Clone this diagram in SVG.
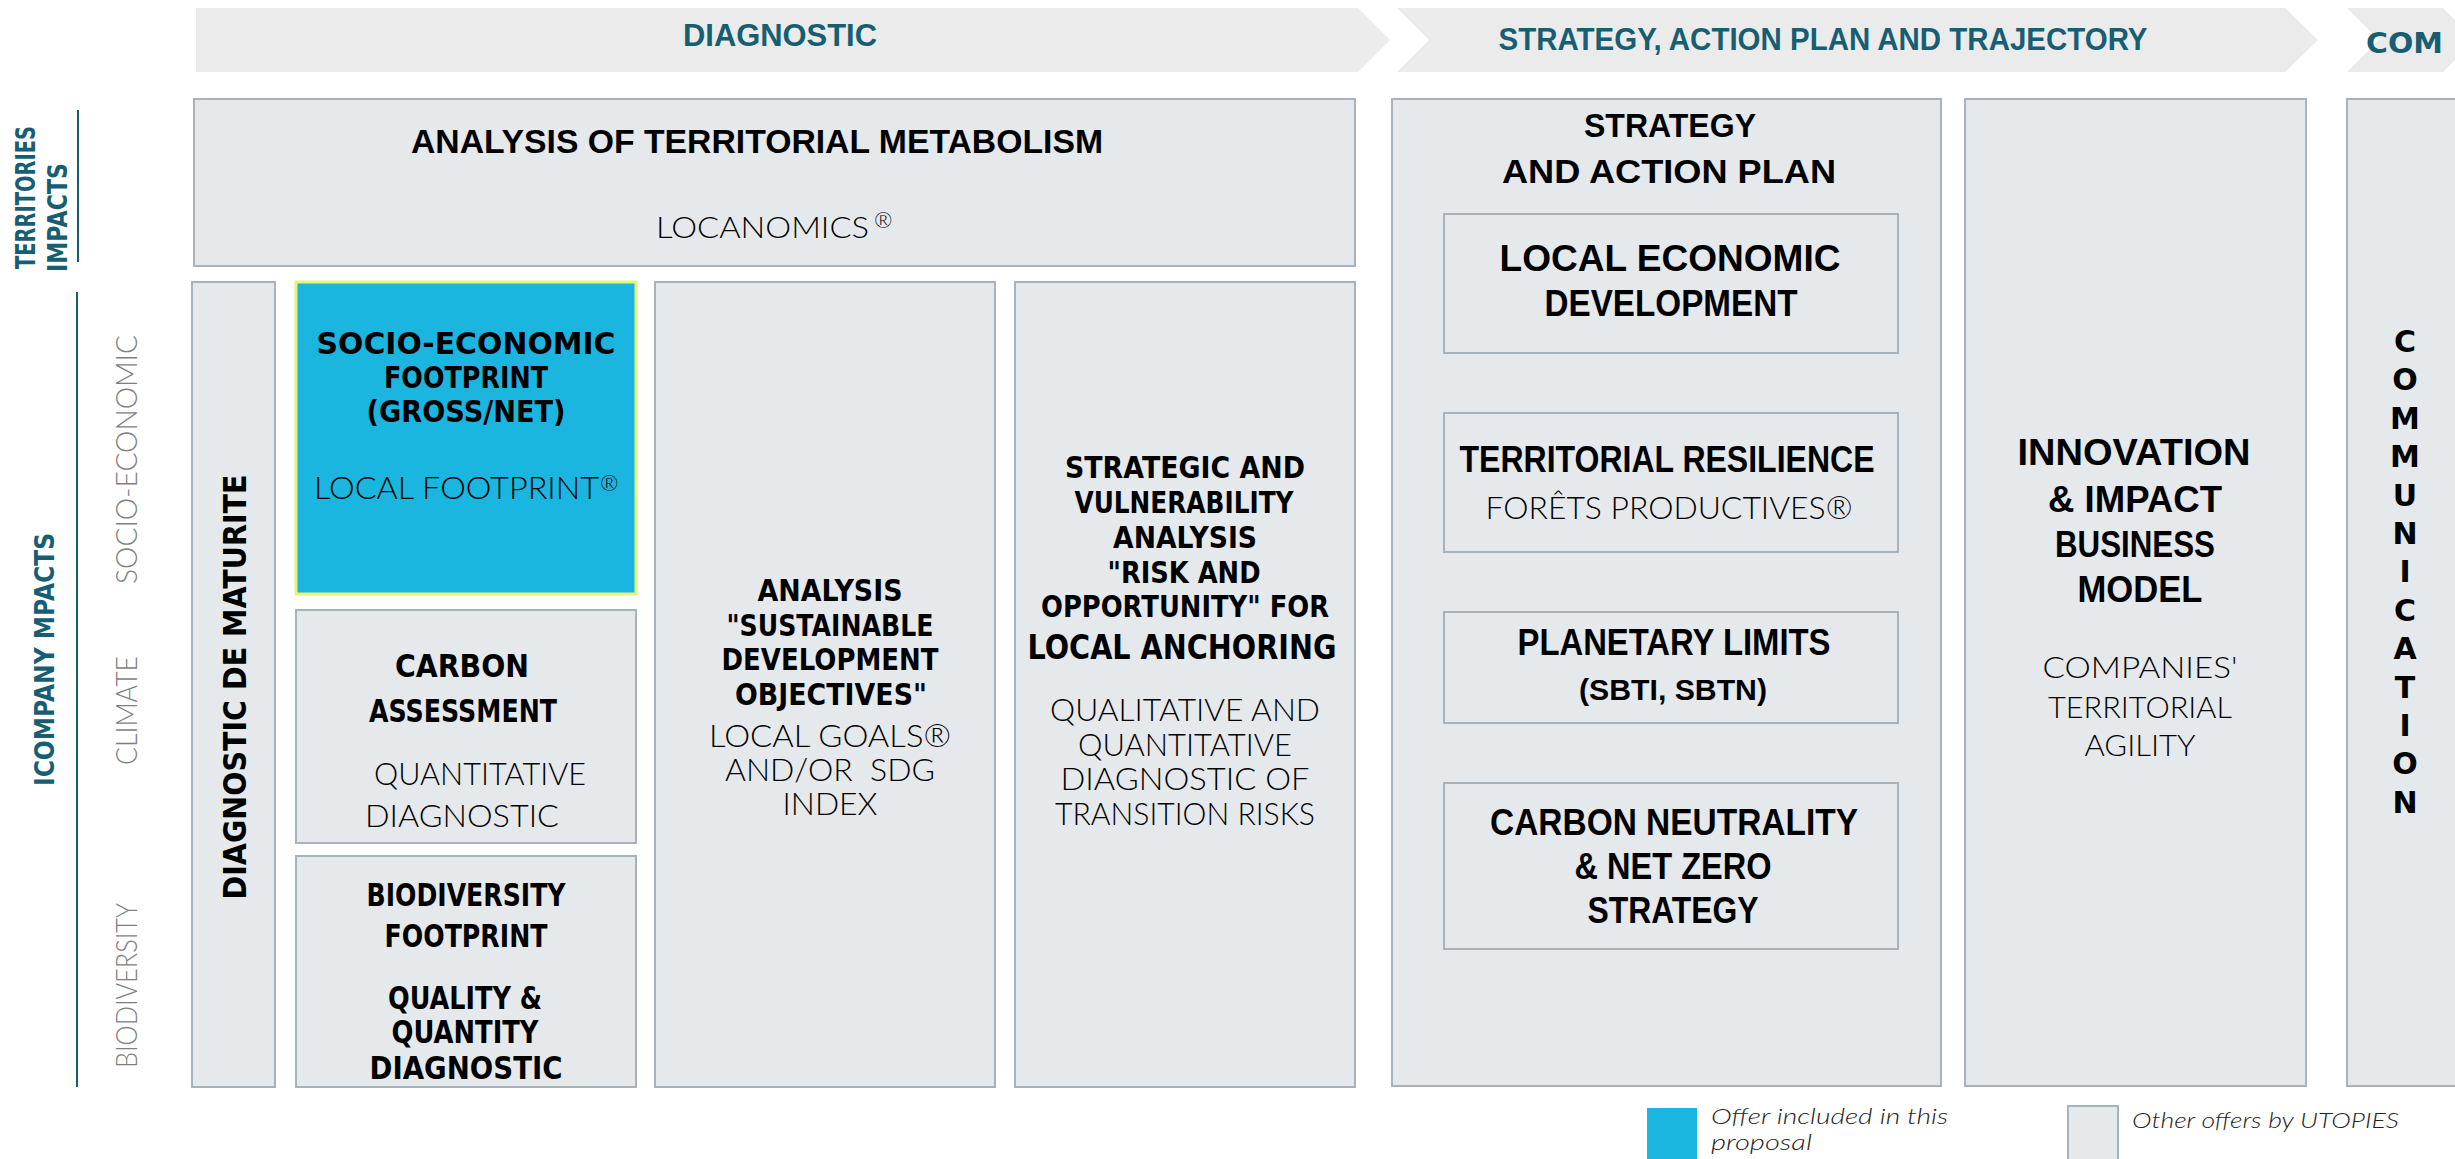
<svg xmlns="http://www.w3.org/2000/svg" width="2455" height="1159" viewBox="0 0 2455 1159">
  <style>
    .phase { fill: #EBEBEB; }
    .box { fill: #E6E9EC; stroke: #A7B3BC; stroke-width: 2; }
    .offer { fill: #1BB6E0; stroke: #E4F57A; stroke-width: 3; }
    .cb { font-family: "Liberation Sans", Arial, sans-serif; font-weight: bold; fill: #000; }
    .cl { font-family: "Lato", "Open Sans", sans-serif; font-weight: 300; fill: #000; }
    .gb { font-family: "DejaVu Sans", "Noto Sans", sans-serif; font-weight: bold; fill: #000; }
    .gl { font-family: "Lato", "Open Sans", sans-serif; font-weight: 300; fill: #000; }
    .teal { fill: #175E73; }
    .grey { fill: #7F7F7F; }
    .mid { text-anchor: middle; }
    .axis { stroke: #175E73; stroke-width: 2; fill: none; }
    .legend { font-family: "Lato", "Open Sans", sans-serif; font-weight: 300; font-style: italic; fill: #222; font-size: 22px; }
  </style>

  <!-- Phase banners -->
  <g id="phase-diagnostic">
    <polygon class="phase" points="196,8 1358,8 1390,40 1358,72 196,72"/>
    <text class="cb teal mid" x="780" y="46" font-size="32" textLength="194" lengthAdjust="spacingAndGlyphs">DIAGNOSTIC</text>
  </g>
  <g id="phase-strategy">
    <polygon class="phase" points="1397,8 2285,8 2318,40 2285,72 1397,72 1429,40"/>
    <text class="cb teal mid" x="1823" y="50" font-size="32" textLength="649" lengthAdjust="spacingAndGlyphs">STRATEGY, ACTION PLAN AND TRAJECTORY</text>
  </g>
  <g id="phase-com">
    <polygon class="phase" points="2347,8 2443,8 2475,40 2443,72 2347,72 2379,40"/>
    <text class="gb teal" x="2366" y="53" font-size="29" textLength="77" lengthAdjust="spacingAndGlyphs">COM</text>
  </g>

  <!-- Side axis labels -->
  <g id="axis-territories">
    <text class="gb teal" font-size="26" transform="translate(35,269) rotate(-90)" textLength="143" lengthAdjust="spacingAndGlyphs">TERRITORIES</text>
    <text class="gb teal" font-size="26" transform="translate(67,272) rotate(-90)" textLength="109" lengthAdjust="spacingAndGlyphs">IMPACTS</text>
    <line class="axis" x1="78" y1="110" x2="78" y2="262"/>
  </g>
  <g id="axis-company">
    <text class="gb teal" font-size="27" transform="translate(54,786) rotate(-90)" textLength="253" lengthAdjust="spacingAndGlyphs">ICOMPANY MPACTS</text>
    <line class="axis" x1="77" y1="292" x2="77" y2="1087"/>
    <text class="gl grey" font-size="30" transform="translate(137,584) rotate(-90)" textLength="249" lengthAdjust="spacingAndGlyphs">SOCIO-ECONOMIC</text>
    <text class="gl grey" font-size="30" transform="translate(137,765) rotate(-90)" textLength="109" lengthAdjust="spacingAndGlyphs">CLIMATE</text>
    <text class="gl grey" font-size="30" transform="translate(137,1068) rotate(-90)" textLength="165" lengthAdjust="spacingAndGlyphs">BIODIVERSITY</text>
  </g>

  <!-- Territorial metabolism -->
  <g id="node-metabolism">
    <rect class="box" x="194" y="99" width="1161" height="167"/>
    <text class="cb mid" x="757" y="153" font-size="34" textLength="692" lengthAdjust="spacingAndGlyphs">ANALYSIS OF TERRITORIAL METABOLISM</text>
    <text class="cl" x="656" y="238" font-size="30" textLength="213" lengthAdjust="spacingAndGlyphs">LOCANOMICS</text>
    <text class="cl" x="874" y="228" font-size="22">®</text>
  </g>

  <!-- Maturity diagnostic -->
  <g id="node-maturity">
    <rect class="box" x="192" y="282" width="83" height="805"/>
    <text class="gb mid" font-size="32" transform="translate(246,687) rotate(-90)" textLength="425" lengthAdjust="spacingAndGlyphs">DIAGNOSTIC DE MATURITE</text>
  </g>

  <!-- Socio-economic footprint (included offer) -->
  <g id="node-socio-economic">
    <rect class="offer" x="296" y="282" width="340" height="312"/>
    <text class="gb mid" x="466" y="354" font-size="31" textLength="299" lengthAdjust="spacingAndGlyphs">SOCIO-ECONOMIC</text>
    <text class="gb mid" x="466" y="388" font-size="31" textLength="164" lengthAdjust="spacingAndGlyphs">FOOTPRINT</text>
    <text class="gb mid" x="466" y="422" font-size="31" textLength="199" lengthAdjust="spacingAndGlyphs">(GROSS/NET)</text>
    <text class="gl" x="314" y="499" font-size="31" textLength="285" lengthAdjust="spacingAndGlyphs">LOCAL FOOTPRINT</text>
    <text class="gl" x="600" y="491" font-size="22">®</text>
  </g>

  <!-- Carbon assessment -->
  <g id="node-carbon">
    <rect class="box" x="296" y="610" width="340" height="233"/>
    <text class="gb mid" x="462" y="677" font-size="32" textLength="134" lengthAdjust="spacingAndGlyphs">CARBON</text>
    <text class="gb mid" x="463" y="722" font-size="32" textLength="188" lengthAdjust="spacingAndGlyphs">ASSESSMENT</text>
    <text class="gl mid" x="480" y="785" font-size="31" textLength="212" lengthAdjust="spacingAndGlyphs">QUANTITATIVE</text>
    <text class="gl mid" x="462" y="827" font-size="31" textLength="194" lengthAdjust="spacingAndGlyphs">DIAGNOSTIC</text>
  </g>

  <!-- Biodiversity footprint -->
  <g id="node-biodiversity">
    <rect class="box" x="296" y="856" width="340" height="231"/>
    <text class="gb mid" x="466" y="906" font-size="32" textLength="199" lengthAdjust="spacingAndGlyphs">BIODIVERSITY</text>
    <text class="gb mid" x="466" y="947" font-size="32" textLength="163" lengthAdjust="spacingAndGlyphs">FOOTPRINT</text>
    <text class="gb mid" x="465" y="1009" font-size="32" textLength="154" lengthAdjust="spacingAndGlyphs">QUALITY &amp;</text>
    <text class="gb mid" x="465" y="1043" font-size="32" textLength="147" lengthAdjust="spacingAndGlyphs">QUANTITY</text>
    <text class="gb mid" x="466" y="1079" font-size="32" textLength="193" lengthAdjust="spacingAndGlyphs">DIAGNOSTIC</text>
  </g>

  <!-- SDG analysis -->
  <g id="node-sdg">
    <rect class="box" x="655" y="282" width="340" height="805"/>
    <text class="gb mid" x="830" y="601" font-size="31" textLength="145" lengthAdjust="spacingAndGlyphs">ANALYSIS</text>
    <text class="gb mid" x="830" y="636" font-size="31" textLength="207" lengthAdjust="spacingAndGlyphs">"SUSTAINABLE</text>
    <text class="gb mid" x="830" y="670" font-size="31" textLength="217" lengthAdjust="spacingAndGlyphs">DEVELOPMENT</text>
    <text class="gb mid" x="831" y="705" font-size="31" textLength="192" lengthAdjust="spacingAndGlyphs">OBJECTIVES"</text>
    <text class="gl mid" x="830" y="747" font-size="31" textLength="242" lengthAdjust="spacingAndGlyphs">LOCAL GOALS®</text>
    <text class="gl mid" x="830" y="781" font-size="31" textLength="210" lengthAdjust="spacingAndGlyphs" xml:space="preserve">AND/OR  SDG</text>
    <text class="gl mid" x="830" y="815" font-size="31" textLength="95" lengthAdjust="spacingAndGlyphs">INDEX</text>
  </g>

  <!-- Strategic and vulnerability analysis -->
  <g id="node-risk">
    <rect class="box" x="1015" y="282" width="340" height="805"/>
    <text class="gb mid" x="1185" y="478" font-size="31" textLength="240" lengthAdjust="spacingAndGlyphs">STRATEGIC AND</text>
    <text class="gb mid" x="1184" y="513" font-size="31" textLength="219" lengthAdjust="spacingAndGlyphs">VULNERABILITY</text>
    <text class="gb mid" x="1185" y="548" font-size="31" textLength="144" lengthAdjust="spacingAndGlyphs">ANALYSIS</text>
    <text class="gb mid" x="1184" y="583" font-size="31" textLength="153" lengthAdjust="spacingAndGlyphs">"RISK AND</text>
    <text class="gb mid" x="1185" y="617" font-size="31" textLength="288" lengthAdjust="spacingAndGlyphs">OPPORTUNITY" FOR</text>
    <text class="gb mid" x="1182" y="659" font-size="34" textLength="309" lengthAdjust="spacingAndGlyphs">LOCAL ANCHORING</text>
    <text class="gl mid" x="1185" y="721" font-size="31" textLength="270" lengthAdjust="spacingAndGlyphs">QUALITATIVE AND</text>
    <text class="gl mid" x="1185" y="756" font-size="31" textLength="214" lengthAdjust="spacingAndGlyphs">QUANTITATIVE</text>
    <text class="gl mid" x="1185" y="790" font-size="31" textLength="249" lengthAdjust="spacingAndGlyphs">DIAGNOSTIC OF</text>
    <text class="gl mid" x="1185" y="825" font-size="31" textLength="260" lengthAdjust="spacingAndGlyphs">TRANSITION RISKS</text>
  </g>

  <!-- Strategy and action plan -->
  <g id="node-strategy">
    <rect class="box" x="1392" y="99" width="549" height="987"/>
    <text class="cb mid" x="1670" y="137" font-size="34" textLength="172" lengthAdjust="spacingAndGlyphs">STRATEGY</text>
    <text class="cb mid" x="1669" y="183" font-size="34" textLength="334" lengthAdjust="spacingAndGlyphs">AND ACTION PLAN</text>
  </g>
  <g id="node-local-economic">
    <rect class="box" x="1444" y="214" width="454" height="139"/>
    <text class="cb mid" x="1670" y="271" font-size="36" textLength="341" lengthAdjust="spacingAndGlyphs">LOCAL ECONOMIC</text>
    <text class="cb mid" x="1671" y="316" font-size="36" textLength="253" lengthAdjust="spacingAndGlyphs">DEVELOPMENT</text>
  </g>
  <g id="node-resilience">
    <rect class="box" x="1444" y="413" width="454" height="139"/>
    <text class="cb mid" x="1667" y="472" font-size="36" textLength="415" lengthAdjust="spacingAndGlyphs">TERRITORIAL RESILIENCE</text>
    <text class="cl mid" x="1669" y="519" font-size="31" textLength="367" lengthAdjust="spacingAndGlyphs">FORÊTS PRODUCTIVES®</text>
  </g>
  <g id="node-planetary">
    <rect class="box" x="1444" y="612" width="454" height="111"/>
    <text class="cb mid" x="1674" y="655" font-size="36" textLength="313" lengthAdjust="spacingAndGlyphs">PLANETARY LIMITS</text>
    <text class="cb mid" x="1673" y="700" font-size="30" textLength="188" lengthAdjust="spacingAndGlyphs">(SBTI, SBTN)</text>
  </g>
  <g id="node-net-zero">
    <rect class="box" x="1444" y="783" width="454" height="166"/>
    <text class="cb mid" x="1674" y="835" font-size="36" textLength="368" lengthAdjust="spacingAndGlyphs">CARBON NEUTRALITY</text>
    <text class="cb mid" x="1673" y="879" font-size="36" textLength="197" lengthAdjust="spacingAndGlyphs">&amp; NET ZERO</text>
    <text class="cb mid" x="1673" y="923" font-size="36" textLength="171" lengthAdjust="spacingAndGlyphs">STRATEGY</text>
  </g>

  <!-- Innovation and impact business model -->
  <g id="node-innovation">
    <rect class="box" x="1965" y="99" width="341" height="987"/>
    <text class="cb mid" x="2134" y="465" font-size="37" textLength="233" lengthAdjust="spacingAndGlyphs">INNOVATION</text>
    <text class="cb mid" x="2135" y="512" font-size="37" textLength="174" lengthAdjust="spacingAndGlyphs">&amp; IMPACT</text>
    <text class="cb mid" x="2135" y="557" font-size="37" textLength="160" lengthAdjust="spacingAndGlyphs">BUSINESS</text>
    <text class="cb mid" x="2140" y="602" font-size="37" textLength="125" lengthAdjust="spacingAndGlyphs">MODEL</text>
    <text class="cl mid" x="2140" y="678" font-size="30" textLength="195" lengthAdjust="spacingAndGlyphs">COMPANIES'</text>
    <text class="cl mid" x="2140" y="718" font-size="30" textLength="184" lengthAdjust="spacingAndGlyphs">TERRITORIAL</text>
    <text class="cl mid" x="2140" y="756" font-size="30" textLength="111" lengthAdjust="spacingAndGlyphs">AGILITY</text>
  </g>

  <!-- Communication -->
  <g id="node-communication">
    <rect class="box" x="2347" y="99" width="130" height="987"/>
    <g class="gb mid" font-size="30">
      <text x="2405" y="352">C</text>
      <text x="2405" y="390">O</text>
      <text x="2405" y="429">M</text>
      <text x="2405" y="467">M</text>
      <text x="2405" y="506">U</text>
      <text x="2405" y="544">N</text>
      <text x="2405" y="582">I</text>
      <text x="2405" y="621">C</text>
      <text x="2405" y="659">A</text>
      <text x="2405" y="698">T</text>
      <text x="2405" y="736">I</text>
      <text x="2405" y="774">O</text>
      <text x="2405" y="813">N</text>
    </g>
  </g>

  <!-- Legend -->
  <g id="legend">
    <rect x="1647" y="1108" width="50" height="52" fill="#1BB6E0"/>
    <text class="legend" x="1711" y="1124" textLength="237" lengthAdjust="spacingAndGlyphs">Offer included in this</text>
    <text class="legend" x="1711" y="1150" textLength="101" lengthAdjust="spacingAndGlyphs">proposal</text>
    <rect class="box" x="2068" y="1106" width="50" height="54"/>
    <text class="legend" x="2132" y="1128" textLength="267" lengthAdjust="spacingAndGlyphs">Other offers by UTOPIES</text>
  </g>
</svg>
